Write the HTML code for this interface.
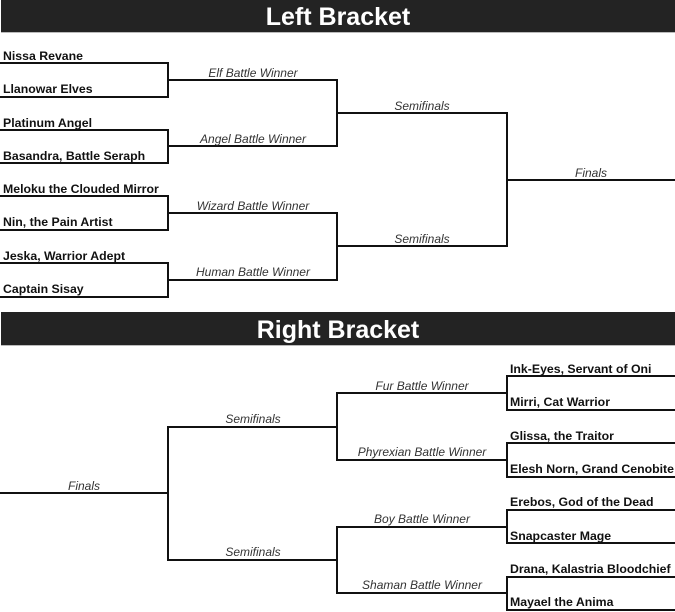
<!DOCTYPE html>
<html><head><meta charset="utf-8"><style>
html,body{margin:0;padding:0;background:#fff;width:675px;height:612px;overflow:hidden}
svg{display:block}
.n{font:bold 12.3px "Liberation Sans",sans-serif;fill:#111}
.l{font:italic 12px "Liberation Sans",sans-serif;fill:#333}
.h{font:bold 25px "Liberation Sans",sans-serif;fill:#fff}
</style></head><body>
<svg width="675" height="612" viewBox="0 0 675 612">
<rect x="1" y="0" width="674" height="32" fill="#232323"/>
<line x1="1" y1="32.5" x2="675" y2="32.5" stroke="#bbb"/>
<text class="h" x="338" y="25" text-anchor="middle">Left Bracket</text>
<rect x="1" y="312" width="674" height="33" fill="#232323"/>
<line x1="1" y1="345.5" x2="675" y2="345.5" stroke="#bbb"/>
<text class="h" x="338" y="338" text-anchor="middle">Right Bracket</text>
<g stroke="#111" stroke-width="2" fill="none">
<polyline points="0,63 168,63 168,97 0,97"/>
<polyline points="0,130 168,130 168,163 0,163"/>
<polyline points="0,196 168,196 168,230 0,230"/>
<polyline points="0,263 168,263 168,297 0,297"/>
<polyline points="168,80 337,80 337,146 168,146"/>
<polyline points="168,213 337,213 337,280 168,280"/>
<polyline points="337,113 507,113 507,246 337,246"/>
<line x1="507" y1="180" x2="675" y2="180"/>
<polyline points="675,376 507,376 507,410 675,410"/>
<polyline points="675,443 507,443 507,477 675,477"/>
<polyline points="675,510 507,510 507,543 675,543"/>
<polyline points="675,577 507,577 507,610 675,610"/>
<polyline points="507,393 337,393 337,460 507,460"/>
<polyline points="507,527 337,527 337,593 507,593"/>
<polyline points="337,427 168,427 168,560 337,560"/>
<line x1="0" y1="493" x2="168" y2="493"/>
</g>
<text class="n" x="3" y="60">Nissa Revane</text>
<text class="n" x="3" y="93">Llanowar Elves</text>
<text class="n" x="3" y="127">Platinum Angel</text>
<text class="n" x="3" y="160">Basandra, Battle Seraph</text>
<text class="n" x="3" y="193">Meloku the Clouded Mirror</text>
<text class="n" x="3" y="226">Nin, the Pain Artist</text>
<text class="n" x="3" y="260">Jeska, Warrior Adept</text>
<text class="n" x="3" y="293">Captain Sisay</text>
<g class="l" text-anchor="middle">
<text x="253" y="77">Elf Battle Winner</text>
<text x="253" y="143">Angel Battle Winner</text>
<text x="253" y="210">Wizard Battle Winner</text>
<text x="253" y="276">Human Battle Winner</text>
<text x="422" y="110">Semifinals</text>
<text x="422" y="243">Semifinals</text>
<text x="591" y="177">Finals</text>
<text x="422" y="390">Fur Battle Winner</text>
<text x="422" y="456">Phyrexian Battle Winner</text>
<text x="422" y="523">Boy Battle Winner</text>
<text x="422" y="589">Shaman Battle Winner</text>
<text x="253" y="423">Semifinals</text>
<text x="253" y="556">Semifinals</text>
<text x="84" y="490">Finals</text>
</g>
<text class="n" x="510" y="373">Ink-Eyes, Servant of Oni</text>
<text class="n" x="510" y="406">Mirri, Cat Warrior</text>
<text class="n" x="510" y="440">Glissa, the Traitor</text>
<text class="n" x="510" y="473">Elesh Norn, Grand Cenobite</text>
<text class="n" x="510" y="506">Erebos, God of the Dead</text>
<text class="n" x="510" y="540">Snapcaster Mage</text>
<text class="n" x="510" y="573">Drana, Kalastria Bloodchief</text>
<text class="n" x="510" y="606">Mayael the Anima</text>
</svg>
</body></html>
